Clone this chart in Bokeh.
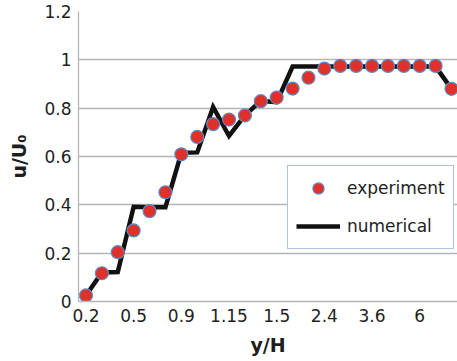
from bokeh.plotting import figure
from bokeh.models import FixedTicker, Legend, LegendItem, ColumnDataSource, Range1d
from bokeh.embed import file_html
from bokeh.resources import INLINE

# category labels shown every 3rd category
x_labels = ["0.2", "0.5", "0.9", "1.15", "1.5", "2.4", "3.6", "6"]
label_step = 3

experiment = [0.025, 0.117, 0.204, 0.294, 0.374, 0.452, 0.609, 0.681, 0.734, 0.753,
              0.770, 0.829, 0.844, 0.881, 0.926, 0.964, 0.975, 0.975, 0.975, 0.975,
              0.975, 0.975, 0.975, 0.880]
numerical = [0.025, 0.12, 0.122, 0.392, 0.39, 0.39, 0.615, 0.617, 0.805, 0.685,
             0.77, 0.83, 0.825, 0.972, 0.972, 0.972, 0.972, 0.972, 0.972, 0.972,
             0.972, 0.972, 0.972, 0.88]
y_ticks = [0, 0.2, 0.4, 0.6, 0.8, 1.0, 1.2]

idx = list(range(len(experiment)))
src = ColumnDataSource(dict(x=idx, exp=experiment, num=numerical))

FONT = "DejaVu Sans"
TXT = "#1e1e1e"
GRID = "#b5b5b5"

p = figure(width=457, height=361, output_backend="svg", toolbar_location=None,
           x_range=Range1d(-0.471, 23.377), y_range=Range1d(0, 1.2),
           min_border_left=78, min_border_right=0, min_border_top=11, min_border_bottom=60)
p.outline_line_color = None
p.background_fill_color = "white"
p.border_fill_color = "white"

ln = p.line("x", "num", source=src, line_color="#111111", line_width=4.5, line_join="miter")
sc = p.scatter("x", "exp", source=src, size=13, fill_color="#e0302a",
               line_color="#5b8bc8", line_width=1.2)

# axes
xa = p.xaxis[0]
xa.ticker = FixedTicker(ticks=[i * label_step for i in range(len(x_labels))])
xa.major_label_overrides = {i * label_step: lab for i, lab in enumerate(x_labels)}
ya = p.yaxis[0]
ya.ticker = FixedTicker(ticks=y_ticks)
ya.major_label_overrides = {0: "0", 1: "1"}

for ax in (xa, ya):
    ax.axis_line_color = GRID
    ax.axis_line_width = 1.3
    ax.major_tick_line_color = None
    ax.minor_tick_line_color = None
    ax.major_tick_out = 0
    ax.major_tick_in = 0
    ax.major_label_text_font = FONT
    ax.major_label_text_font_size = "17px"
    ax.major_label_text_color = TXT
    ax.axis_label_text_font = FONT
    ax.axis_label_text_font_size = "19px"
    ax.axis_label_text_font_style = "bold"
    ax.axis_label_text_color = TXT

xa.axis_label = "y/H"
ya.axis_label = "u/U\u2080"
xa.major_label_standoff = 7
ya.major_label_standoff = 7
xa.axis_label_standoff = 9
ya.axis_label_standoff = 11

p.xgrid.grid_line_color = None
p.ygrid.grid_line_color = GRID
p.ygrid.grid_line_width = 1.3
p.ygrid.ticker = FixedTicker(ticks=y_ticks)

legend = Legend(items=[LegendItem(label="experiment", renderers=[sc]),
                       LegendItem(label="numerical", renderers=[ln])],
                location=(209, 52), orientation="vertical")
legend.border_line_color = "#5b8bc8"
legend.border_line_width = 1
legend.background_fill_color = "white"
legend.background_fill_alpha = 1
legend.padding = 8
legend.margin = 0
legend.spacing = 10
legend.glyph_width = 44
legend.glyph_height = 28
legend.label_standoff = 7
legend.label_text_font = FONT
legend.label_text_font_size = "17px"
legend.label_text_color = TXT
legend.label_height = 28
p.add_layout(legend, "center")

open("out.html", "w").write(file_html(p, INLINE))
